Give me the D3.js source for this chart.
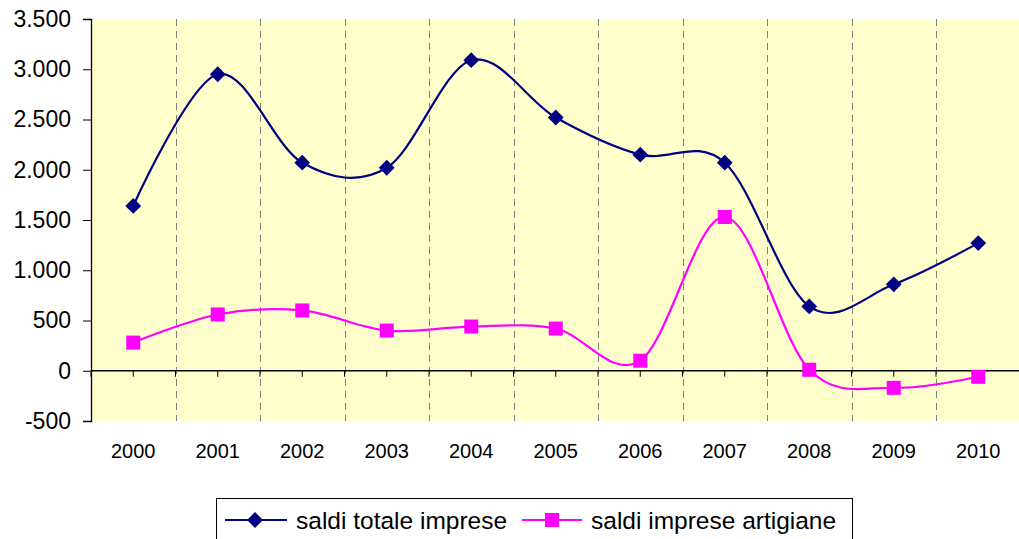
<!DOCTYPE html>
<html><head><meta charset="utf-8">
<script src="https://cdn.jsdelivr.net/npm/d3@7"></script>
<style>body{margin:0;background:#fff}svg{display:block;font-family:"Liberation Sans",Arial,sans-serif}</style>
</head><body>
<svg id="c" width="1019" height="539"></svg>
<script>
const years = ["2000","2001","2002","2003","2004","2005","2006","2007","2008","2009","2010"];
const totaleImprese = [1640, 2950, 2070, 2020, 3090, 2520, 2150, 2070, 640, 860, 1270];
const impreseArtigiane = [280, 560, 600, 400, 440, 420, 100, 1530, 10, -170, -60];
const yTicks = [-500, 0, 500, 1000, 1500, 2000, 2500, 3000, 3500];
const seriesNames = ["saldi totale imprese", "saldi imprese artigiane"];

const svg = d3.select("#c");
const L = 91, R = 1020.5, T = 19, B = 421;
const x = d3.scaleBand().domain(years).range([L, R]);
const y = d3.scaleLinear().domain([-500, 3500]).range([B, T]);
const fmt = d3.formatLocale({decimal: ",", thousands: ".", grouping: [3], currency: ["", ""], minus: "-"}).format(",");

svg.append("rect").attr("x", L).attr("y", T).attr("width", R - L).attr("height", B - T).attr("fill", "#FFFFCC");

// dashed vertical gridlines at category boundaries
svg.append("g").selectAll("line").data(years.slice(1)).join("line")
  .attr("x1", d => Math.round(x(d)) + 0.5).attr("x2", d => Math.round(x(d)) + 0.5)
  .attr("y1", T).attr("y2", B)
  .attr("stroke", "#808080").attr("stroke-width", 1).attr("stroke-dasharray", "7,5");

// y axis
const ya = svg.append("g").attr("transform", `translate(${L},0)`)
  .call(d3.axisLeft(y).tickValues(yTicks).tickFormat(d => fmt(d)).tickSize(8).tickPadding(12));
ya.select(".domain").attr("stroke", "#000").attr("stroke-width", 1.3);
ya.selectAll(".tick line").attr("stroke", "#000");
ya.selectAll("text").attr("font-size", 23).attr("fill", "#000").attr("font-family", "Liberation Sans, Arial, sans-serif");

// x axis at zero
const y0 = y(0);
svg.append("line").attr("x1", L).attr("x2", R).attr("y1", y0).attr("y2", y0).attr("stroke", "#000").attr("stroke-width", 1.3);
const tickXs = years.map(d => x(d) + x.bandwidth() / 2).concat(years.map(d => x(d)));
svg.append("g").selectAll("line").data(tickXs).join("line")
  .attr("x1", d => d).attr("x2", d => d).attr("y1", y0).attr("y2", y0 + 6)
  .attr("stroke", "#000").attr("stroke-width", 1);
svg.append("g").selectAll("text").data(years).join("text")
  .attr("x", d => x(d) + x.bandwidth() / 2).attr("y", 458)
  .attr("text-anchor", "middle").attr("font-size", 20).attr("fill", "#000").text(d => d);

const line = d3.line().x((d, i) => x(years[i]) + x.bandwidth() / 2).y(d => y(d)).curve(d3.curveCatmullRom.alpha(0));
const blue = "#000080", pink = "#FF00FF";

svg.append("path").datum(impreseArtigiane).attr("d", line).attr("fill", "none").attr("stroke", pink).attr("stroke-width", 2.2);
svg.append("path").datum(totaleImprese).attr("d", line).attr("fill", "none").attr("stroke", blue).attr("stroke-width", 2.2);

const diamond = d3.symbol().type(d3.symbolSquare).size(125);
svg.append("g").selectAll("path").data(totaleImprese).join("path")
  .attr("d", diamond)
  .attr("transform", (d, i) => `translate(${x(years[i]) + x.bandwidth() / 2},${y(d)}) rotate(45)`)
  .attr("fill", blue);
svg.append("g").selectAll("rect").data(impreseArtigiane).join("rect")
  .attr("x", (d, i) => x(years[i]) + x.bandwidth() / 2 - 7).attr("y", d => y(d) - 7)
  .attr("width", 14).attr("height", 14).attr("fill", pink);

// legend
const lg = svg.append("g");
lg.append("rect").attr("x", 216.5).attr("y", 498.5).attr("width", 636).attr("height", 50).attr("fill", "#fff").attr("stroke", "#000").attr("stroke-width", 1);
lg.append("line").attr("x1", 225).attr("x2", 287).attr("y1", 520).attr("y2", 520).attr("stroke", blue).attr("stroke-width", 2.2);
lg.append("path").attr("d", diamond).attr("transform", "translate(255,520) rotate(45)").attr("fill", blue);
lg.append("text").attr("x", 296).attr("y", 529).attr("font-size", 24.5).attr("fill", "#000").text(seriesNames[0]);
lg.append("line").attr("x1", 522).attr("x2", 582).attr("y1", 520).attr("y2", 520).attr("stroke", pink).attr("stroke-width", 2.2);
lg.append("rect").attr("x", 545).attr("y", 513).attr("width", 14).attr("height", 14).attr("fill", pink);
lg.append("text").attr("x", 591).attr("y", 529).attr("font-size", 24.5).attr("fill", "#000").text(seriesNames[1]);
</script>
</body></html>
